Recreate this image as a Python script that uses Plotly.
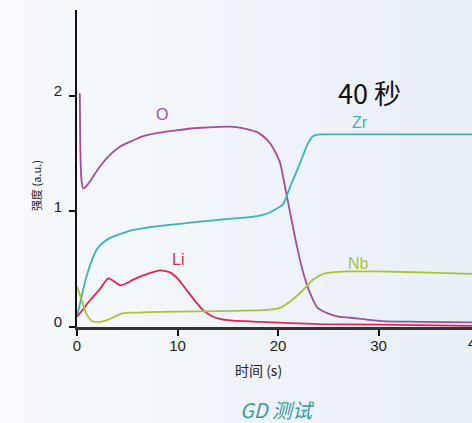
import plotly.graph_objects as go

# Glow-discharge depth profile: intensity vs. sputter time
o_time = [0.28, 0.32, 0.42, 0.6, 0.85, 1.3, 2.3, 3.3, 4.3, 5.5, 6.6, 8.2, 9.9, 12.0, 14.2, 15.6, 16.9,
          18.0, 18.9, 19.5, 20.2, 20.7, 21.2, 21.9, 22.5, 23.2, 23.9, 24.9, 26.0, 27.2, 30.4, 34.0, 39.3]
o_int = [2.02, 1.6, 1.3, 1.2, 1.21, 1.26, 1.39, 1.49, 1.56, 1.61, 1.65, 1.68, 1.70, 1.72, 1.73, 1.73, 1.71,
         1.68, 1.62, 1.55, 1.42, 1.21, 0.99, 0.69, 0.47, 0.29, 0.17, 0.12, 0.09, 0.08, 0.05, 0.045, 0.04]

zr_time = [0.0, 0.5, 0.96, 1.5, 1.96, 2.6, 3.3, 4.5, 5.6, 7.0, 8.3, 10.0, 12.2, 14.5, 17.2, 18.5, 19.2,
           19.8, 20.5, 21.2, 22.2, 23.0, 23.5, 24.2, 25.0, 30.0, 39.3]
zr_int = [0.09, 0.28, 0.44, 0.58, 0.67, 0.73, 0.77, 0.81, 0.84, 0.86, 0.875, 0.89, 0.91, 0.93, 0.95, 0.97, 0.99,
          1.02, 1.06, 1.21, 1.42, 1.59, 1.65, 1.665, 1.665, 1.665, 1.665]

li_time = [0.0, 0.5, 1.0, 1.6, 2.3, 3.1, 3.6, 4.3, 5.0, 5.6, 7.0, 8.3, 9.3, 10.1, 10.9, 11.7, 12.5, 13.3,
           14.2, 15.5, 18.2, 24.2, 30.0, 39.3]
li_int = [0.09, 0.14, 0.20, 0.26, 0.33, 0.42, 0.40, 0.36, 0.38, 0.41, 0.46, 0.49, 0.47, 0.41, 0.32, 0.23, 0.15, 0.10,
          0.07, 0.055, 0.045, 0.025, 0.02, 0.01]

nb_time = [0.0, 0.4, 0.9, 1.5, 2.2, 3.0, 3.8, 4.6, 6.0, 8.3, 12.0, 16.0, 19.2, 20.3, 21.2, 22.5, 23.5, 24.5,
           25.2, 27.0, 30.0, 35.0, 39.3]
nb_int = [0.35, 0.25, 0.12, 0.05, 0.045, 0.06, 0.09, 0.12, 0.125, 0.13, 0.135, 0.14, 0.15, 0.17, 0.22, 0.32, 0.41, 0.46,
          0.47, 0.48, 0.48, 0.47, 0.46]

x_ticks = [0, 10, 20, 30, 40]
y_ticks = [0, 1, 2]

FONT = "Liberation Sans, Arial, Noto Sans CJK SC, sans-serif"
CJK = "Noto Sans CJK SC, Liberation Sans, sans-serif"

# plot-area geometry in pixels (used to place page-level texts)
L, T, B = 77, 10, 96
W, H = 472 - L, 423 - T - B


def px_x(px):
    return (px - L) / W


def px_y(py):
    return (423 - B - py) / H


series = [
    ("O", o_time, o_int, "#a24d9e"),
    ("Zr", zr_time, zr_int, "#3bb3b5"),
    ("Li", li_time, li_int, "#e2264f"),
    ("Nb", nb_time, nb_int, "#a6c33a"),
]

fig = go.Figure()
for name, t, v, color in series:
    fig.add_trace(go.Scatter(x=t, y=v, mode="lines", name=name,
                             line=dict(color=color, width=1.8, shape="spline", smoothing=0.6)))

# soft left-to-right background gradient over the whole page
n = 60
x0p, x1p = px_x(0), 1.0
for i in range(n):
    f = i / (n - 1)
    r = round(247 + (233 - 247) * f)
    g = round(249 + (239 - 249) * f)
    b = round(252 + (247 - 252) * f)
    xa = x0p + (x1p - x0p) * i / n
    xb = x0p + (x1p - x0p) * (i + 1) / n + 0.002
    fig.add_shape(type="rect", xref="paper", yref="paper", x0=xa, x1=xb,
                  y0=px_y(423) - 0.01, y1=px_y(0) + 0.01,
                  fillcolor=f"rgb({r},{g},{b})", line=dict(width=0), layer="below")

labels = [
    ("O", 8.5, 1.84, "#a24d9e"),
    ("Zr", 28.2, 1.77, "#3bb3b5"),
    ("Li", 10.0, 0.58, "#e2264f"),
    ("Nb", 28.0, 0.545, "#a6c33a"),
]
for text, x, y, color in labels:
    fig.add_annotation(x=x, y=y, text=text, showarrow=False,
                       font=dict(family=FONT, size=16, color=color))

fig.add_annotation(x=29.1, y=2.03, text="40 秒", showarrow=False,
                   font=dict(family=CJK, size=27, color="#111111"))


def page_text(px, py, text, size, color, angle=0, family=CJK):
    fig.add_annotation(xref="paper", yref="paper", x=px_x(px), y=px_y(py),
                       xanchor="center", yanchor="middle", text=text, textangle=angle,
                       showarrow=False, font=dict(family=family, size=size, color=color))


# axis titles and caption
page_text(258, 370, "时间 (s)", 14, "#222222")
page_text(36, 186, "强度 (a.u.)", 11, "#222222", angle=-90)
page_text(277, 409, "<i>GD 测试</i>", 20, "#3a9c9c")
# last tick label, partly beyond the right edge
page_text(476, 342, "40", 15, "#222222", family=FONT)

fig.update_layout(
    width=472, height=423,
    margin=dict(l=L, r=0, t=T, b=B),
    paper_bgcolor="#f3f6fa", plot_bgcolor="rgba(0,0,0,0)",
    showlegend=False,
    font=dict(family=FONT, size=15, color="#222222"),
)
fig.update_xaxes(range=[0, 39.3], tickvals=x_ticks, ticks="outside", ticklen=6, tickwidth=2,
                 tickcolor="#111111", showline=True, linecolor="#333333", linewidth=2.5,
                 showgrid=False, zeroline=False, ticklabelstandoff=-3,
                 tickfont=dict(size=15, color="#222222"))
fig.update_yaxes(range=[0, 2.74], tickvals=y_ticks, ticks="outside", ticklen=6, tickwidth=2,
                 tickcolor="#111111", showline=True, linecolor="#111111", linewidth=2,
                 showgrid=False, zeroline=False, ticklabelshift=-5, ticklabelstandoff=4,
                 tickfont=dict(size=15, color="#222222"))

fig.write_html("out.html")
